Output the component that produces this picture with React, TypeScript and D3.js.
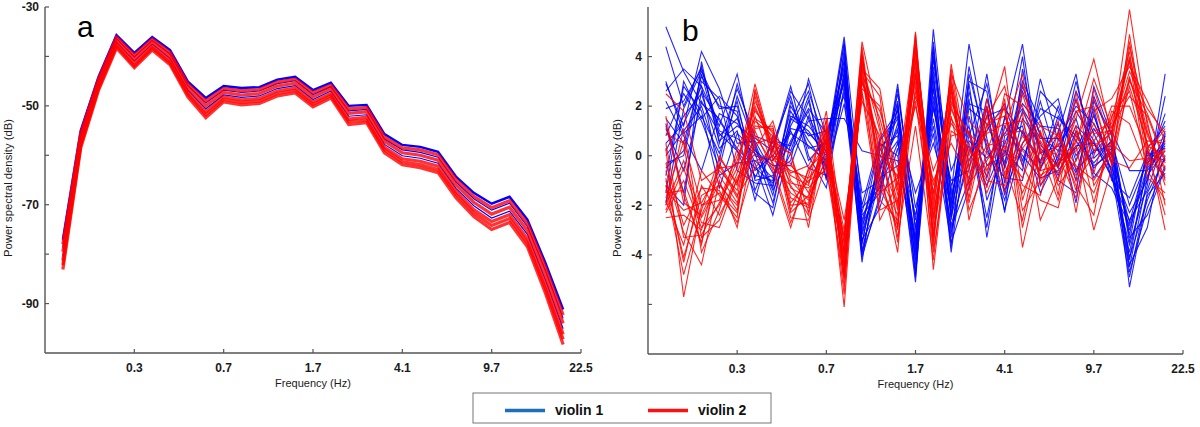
import React from 'react';
import * as d3 from 'd3';

// Frequency axis tick labels (Hz) at every 5th bin
const freqLabels = ['0.3', '0.7', '1.7', '4.1', '9.7', '22.5'];
const freqTickIdx = [5, 10, 15, 20, 25, 30];
const binIdx = d3.range(1, 30);

// Panel a: power spectral density (dB), violin 1 (blue) and violin 2 (red)
const psdBlue: number[][] = [
  [-77.1,-55,-44.1,-35.7,-39.3,-36.1,-38.7,-45.1,-48.4,-46,-46.4,-46.2,-44.7,-44.1,-46.8,-45.3,-50,-49.8,-55.7,-57.9,-58.3,-59.3,-64.3,-67.6,-69.8,-68.4,-73,-81.7,-91.2],
  [-78.6,-55.9,-44.8,-36.4,-40.1,-36.8,-39.5,-45.9,-49.4,-46.8,-47.3,-47.0,-45.5,-44.9,-47.7,-46.1,-51.0,-50.7,-56.7,-58.9,-59.4,-60.4,-65.4,-68.8,-71.1,-69.7,-74.4,-83.2,-93.0],
  [-80.4,-56.9,-45.6,-37.1,-40.9,-37.5,-40.4,-46.8,-50.6,-47.8,-48.3,-48.0,-46.5,-45.9,-48.7,-47.0,-52.1,-51.8,-57.8,-60.1,-60.6,-61.6,-66.7,-70.2,-72.7,-71.3,-76.0,-85.1,-95.1],
];
const psdRed: number[][] = [
  [-78.0,-55.5,-44.5,-36.1,-39.8,-36.5,-39.2,-45.6,-49.0,-46.5,-46.9,-46.7,-45.2,-44.6,-47.3,-45.8,-50.6,-50.3,-56.3,-58.5,-58.9,-59.9,-64.9,-68.3,-70.6,-69.2,-73.8,-82.6,-92.3],
  [-79.5,-56.4,-45.2,-36.7,-40.5,-37.1,-39.9,-46.3,-50.0,-47.3,-47.8,-47.5,-46.0,-45.4,-48.2,-46.5,-51.5,-51.2,-57.2,-59.5,-60.0,-61.0,-66.0,-69.5,-71.9,-70.5,-75.2,-84.1,-94.0],
  [-81.3,-57.5,-46.0,-37.5,-41.4,-37.9,-40.8,-47.3,-51.2,-48.2,-48.8,-48.5,-47.0,-46.4,-49.2,-47.5,-52.7,-52.3,-58.4,-60.7,-61.2,-62.2,-67.3,-71.0,-73.4,-72.0,-76.9,-86.0,-96.2],
  [-82.2,-58.0,-46.4,-37.9,-41.9,-38.3,-41.3,-47.7,-51.8,-48.7,-49.3,-49.0,-47.5,-46.9,-49.7,-47.9,-53.2,-52.9,-58.9,-61.3,-61.9,-62.9,-67.9,-71.7,-74.2,-72.8,-77.7,-86.9,-97.2],
  [-83.1,-58.5,-46.8,-38.3,-42.3,-38.7,-41.7,-48.2,-52.4,-49.2,-49.8,-49.5,-48.0,-47.4,-50.2,-48.4,-53.8,-53.4,-59.5,-61.9,-62.5,-63.5,-68.6,-72.4,-75.0,-73.6,-78.5,-87.8,-98.3],
];

// Panel b: normalized power spectral density (dB)
const devBlue: number[][] = [
  [5.2,3.4,2.1,1.5,0.2,-0.8,-1.0,1.2,2.6,0.4,3.8,-3.1,-0.6,2.2,-3.8,4.2,-2.1,0.8,2.9,-0.5,1.8,0.3,-0.4,1.2,0.5,-0.8,-3.6,-1.2,3.3],
  [4.4,2.0,3.6,0.8,1.5,-0.3,-2.4,0.5,1.8,-0.9,4.3,-3.6,0.2,1.5,-4.2,3.6,-1.5,4.5,0.7,-2.2,0.5,1.6,2.3,-0.6,0.2,0.4,-4.2,-0.3,0.6],
  [2.9,1.2,4.2,2.7,0.5,0.6,-0.7,-0.2,3.1,0.8,3.5,-2.4,-1.5,2.9,-3.0,2.7,-3.9,1.6,-0.9,1.5,4.5,-0.5,0.9,3.3,-0.7,-1.3,-2.8,-0.8,0.2],
  [2.6,3.5,2.8,1.2,3.3,0.0,-0.2,0.9,0.4,-0.2,3.1,-4.3,0.4,0.8,-5.1,4.6,-2.6,2.9,-1.8,0.2,-0.6,3.1,0.6,2.0,1.3,-0.2,-4.7,-2.1,-0.4],
  [1.5,0.5,3.2,2.0,1.8,-1.4,0.3,2.8,0.0,-1.3,2.8,-3.8,-0.9,-0.4,-3.4,1.9,-1.0,-0.6,3.3,-1.1,2.6,0.9,-1.0,-1.5,2.8,0.8,-3.2,0.3,1.2],
  [0.8,2.5,1.4,-0.5,2.4,0.4,-1.6,1.6,1.2,0.3,4.8,-2.0,0.7,1.8,-2.6,3.2,-3.1,0.2,1.0,2.1,-0.2,1.9,1.5,0.8,-0.3,0.6,-5.3,-1.6,-0.7],
  [0.2,1.6,2.5,0.3,1.0,-1.8,0.8,0.2,2.2,-0.5,3.9,-3.4,-2.1,0.3,-4.6,5.1,-1.8,2.3,-3.3,0.8,1.2,-1.5,0.0,2.6,0.9,-0.6,-3.9,-0.5,0.5],
  [-0.3,0.0,3.0,2.3,-0.6,-1.1,-1.2,2.0,0.8,1.0,2.4,-4.0,-0.3,1.1,-3.6,2.4,-2.3,3.6,0.2,-0.9,-1.0,2.6,1.8,-0.2,1.9,-1.0,-1.7,0.1,-0.2],
  [-0.8,2.8,1.8,-1.3,0.9,0.2,-0.4,-0.4,1.6,0.1,3.3,-2.8,-1.2,2.5,-2.1,0.9,-3.5,-1.3,2.0,-2.3,3.5,0.1,0.4,1.5,-0.9,0.2,-4.4,-2.9,0.9],
  [-1.9,1.9,3.4,1.9,2.0,-0.6,0.0,1.0,-0.5,-0.8,2.6,-2.3,0.5,0.0,-4.0,3.9,-0.6,1.2,-2.5,1.2,0.0,-0.9,-0.6,0.4,0.5,-0.5,-2.3,-1.0,2.4],
  [1.1,-0.6,2.2,0.9,0.2,-1.5,-2.1,1.4,2.9,-0.3,4.1,-3.2,-0.7,1.9,-4.8,3.0,-1.2,0.4,-1.2,0.5,2.1,1.2,1.1,-1.9,2.2,0.9,-3.5,0.2,-0.9],
  [-1.2,-2.0,3.8,0.5,2.7,0.8,0.5,2.4,-0.2,0.6,3.6,-4.1,-1.6,2.7,-2.9,1.5,-2.8,-0.2,1.6,1.9,0.9,-0.3,2.0,0.0,1.1,0.0,-4.1,-1.8,0.0],
  [2.2,0.8,-0.6,1.7,1.3,0.3,-1.4,0.1,1.4,1.5,1.5,0.2,0.0,-0.2,-3.3,2.2,-3.3,2.6,-0.4,0.0,4.0,-1.2,-0.2,3.0,0.1,1.0,-0.6,-0.6,0.4],
  [0.5,1.3,2.8,-0.8,-0.3,-0.2,-0.9,1.8,0.6,-0.4,3.2,-1.5,-1.0,1.3,-1.5,0.5,-2.0,3.0,2.6,-1.6,1.5,0.5,-0.8,1.0,-0.5,0.3,-3.0,-0.4,1.7],
  [3.0,0.9,1.6,0.1,2.2,-1.0,-0.8,0.6,1.9,0.9,2.9,-2.6,-0.4,0.6,-3.2,2.8,-2.4,1.9,1.3,-0.4,2.8,0.8,0.2,1.8,0.6,-0.9,-2.6,-1.4,0.8],
  [1.9,2.2,3.5,1.0,0.7,0.1,-1.9,1.1,0.9,0.2,4.5,-3.9,-1.8,2.0,-4.4,4.0,-1.6,1.0,-2.9,1.6,-0.4,2.2,-0.3,0.3,1.6,-0.3,-4.5,-0.9,1.0],
  [-1.5,3.0,1.5,2.4,1.6,-0.9,0.6,0.4,2.4,-1.0,3.4,-3.0,0.6,1.6,-3.9,3.4,-3.7,3.3,0.4,-1.8,1.0,-0.2,1.3,-1.0,2.4,0.5,-3.3,-2.4,-0.5],
  [0.0,1.0,2.0,-0.2,2.9,0.5,-1.3,2.2,0.3,0.5,3.0,-2.1,-1.3,0.5,-2.4,1.2,-2.9,-1.0,2.3,-0.3,3.0,1.4,-0.5,2.3,-0.1,0.6,-2.0,-0.2,1.4],
  [1.3,-1.5,2.6,1.4,0.3,-0.5,-1.1,1.5,1.0,0.0,4.6,-3.5,-0.1,2.1,-4.9,4.4,-2.5,0.6,-0.1,0.9,1.9,0.7,0.7,-0.7,1.7,-0.7,-4.9,-1.5,-0.1],
  [-0.5,0.2,3.3,0.6,1.2,0.7,0.2,2.6,1.5,-0.6,2.1,-2.7,-0.5,1.0,-3.5,2.0,-1.9,2.1,1.8,-1.4,0.3,-0.6,1.6,0.6,-0.4,0.1,-2.7,0.0,0.3],
];
const devRed: number[][] = [
  [2.5,1.8,-1.0,-0.5,-0.4,2.9,0.2,-0.8,-1.2,1.8,-3.6,4.6,1.2,-2.2,5.0,-3.5,3.7,-0.4,1.0,3.6,-1.8,0.6,-0.5,1.5,3.9,0.8,5.9,1.2,-1.0],
  [0.3,-5.7,-2.0,-1.8,0.0,1.5,1.0,-2.2,-0.6,0.5,-6.1,3.5,2.7,-1.4,3.8,-2.8,2.2,0.8,-0.6,1.1,3.3,-1.2,0.2,-0.8,0.6,1.5,4.2,-0.3,0.2],
  [-0.6,-3.1,-4.4,-1.0,-2.9,0.8,-0.3,-1.5,-2.0,0.9,-4.9,4.0,-0.5,-3.9,4.4,-4.6,1.6,-1.7,2.3,-0.8,0.5,1.4,-1.6,2.6,-1.2,0.0,2.8,0.5,-3.0],
  [-1.5,-1.4,-3.6,0.0,-1.2,2.2,0.6,0.1,-2.9,1.2,-3.9,2.5,-2.2,-1.8,2.6,-1.5,2.9,-2.6,0.2,2.0,-3.7,-0.4,1.4,-2.3,1.8,2.3,3.6,2.2,0.6],
  [-2.2,-0.5,-2.7,-2.9,-0.9,0.3,1.4,-1.0,-1.8,-0.1,-4.5,3.2,0.3,-0.9,3.0,-3.9,1.0,0.5,-1.5,0.3,1.7,-2.6,-0.9,0.4,-3.0,-0.5,3.1,0.9,-0.5],
  [-1.0,-4.1,-1.6,-1.2,-2.0,1.0,-0.6,-2.9,-0.5,0.2,-3.5,4.4,-1.0,-3.0,4.7,-2.2,3.3,1.4,0.6,-1.5,2.5,0.1,0.9,-1.4,2.7,0.4,4.6,0.1,1.1],
  [-2.5,-2.4,-3.0,-0.3,-1.6,-0.5,0.4,0.1,-2.3,1.5,-5.3,2.9,1.8,-0.6,2.0,-1.0,0.5,-0.9,1.6,2.8,-0.4,-1.8,-2.1,0.9,-0.7,1.8,1.3,-0.6,-1.8],
  [0.9,0.5,-3.9,-2.2,0.3,1.8,0.9,-1.9,-1.0,-0.6,-4.1,3.8,-1.8,-2.6,3.4,-3.2,2.6,-1.1,-0.2,0.9,1.0,-0.9,0.6,2.2,0.2,1.2,2.4,1.6,-0.3],
  [-1.8,-3.6,-0.6,-1.6,-2.5,2.6,-0.1,-0.3,-1.5,0.6,-2.6,2.2,0.8,-3.3,1.2,-4.2,1.9,0.0,2.0,-0.3,-2.6,0.9,-1.2,-0.2,1.3,-0.2,-0.5,0.6,0.5],
  [1.6,-1.9,-2.4,-0.8,-1.9,0.5,0.7,-2.5,-2.6,-0.3,-3.8,3.6,-2.6,-1.1,4.1,-1.8,3.2,-1.9,1.3,1.6,0.2,-0.6,-0.4,1.2,-1.9,0.7,3.9,-0.9,-1.5],
  [-2.0,1.1,-3.3,-2.6,-0.7,1.2,1.1,-1.3,-1.7,1.1,-4.7,2.7,2.0,-1.6,2.4,-0.6,1.3,0.3,-1.0,-1.2,2.9,0.4,0.0,-1.7,0.9,1.0,3.4,1.9,0.9],
  [-0.3,-2.8,-1.3,-1.4,-2.7,-0.2,0.0,-0.6,-0.9,0.0,-3.3,4.2,-1.3,-2.8,3.6,-2.6,2.4,-0.7,0.4,0.6,-1.2,-1.6,1.0,-1.0,0.0,2.0,2.0,0.2,-2.4],
  [-1.2,-4.8,-2.2,-0.1,-1.1,1.6,-0.4,-2.7,-0.8,1.4,-4.3,3.1,-0.2,-2.0,2.2,-3.0,0.8,1.0,-1.3,2.3,-2.9,0.3,-0.7,0.6,2.3,-0.4,4.9,0.4,0.0],
  [-2.3,-1.0,-2.9,-2.0,-0.2,2.0,0.3,-1.1,-1.3,-0.5,-5.0,3.9,0.0,-0.8,4.5,-2.0,2.8,-1.4,1.6,-0.7,0.8,-0.2,0.4,-0.5,-1.5,0.5,-0.2,-0.1,-0.8],
  [-1.4,-2.2,-1.9,-0.6,-1.4,1.4,0.8,-1.7,-2.1,0.7,-4.4,3.3,1.5,-1.2,3.2,-2.4,2.0,-0.2,0.9,1.3,1.4,-0.8,-0.3,0.2,1.0,1.3,3.8,0.8,-0.6],
  [0.5,-3.3,-3.2,-1.9,-0.5,2.4,-0.2,-0.4,-1.1,0.4,-5.6,4.1,-0.8,-2.4,4.9,-3.7,3.5,-1.2,1.9,0.1,-0.9,1.0,-1.0,1.8,2.0,-0.1,4.4,1.4,-2.0],
  [-2.0,-0.2,-2.5,-1.1,-2.2,1.1,1.2,-2.3,-1.6,-0.2,-3.2,3.0,0.6,-3.5,2.8,-1.2,1.5,0.2,-0.8,2.5,2.0,-0.5,0.5,-1.2,-2.4,1.6,2.6,-0.4,0.3],
  [-0.9,-4.3,-1.2,-2.4,-1.0,0.1,-0.5,-1.2,-2.4,0.8,-4.8,3.7,1.0,-1.9,3.9,-3.3,2.7,-2.2,-0.4,0.4,-1.5,0.2,-1.8,1.0,0.4,0.9,4.0,1.0,-1.2],
  [1.2,-1.6,-3.5,-0.4,-1.7,1.9,0.5,-0.7,-0.4,1.0,-4.0,2.6,-1.5,-0.9,3.3,-2.5,2.1,0.9,0.1,-0.9,0.3,1.2,0.8,-0.4,-1.0,0.2,3.2,0.4,0.7],
  [-1.7,0.6,-2.0,-1.5,-2.3,2.7,0.1,-2.0,-1.9,0.3,-3.0,3.4,2.4,-2.9,4.3,-1.6,3.0,-0.5,1.2,1.9,-2.2,-1.0,-0.2,0.5,3.1,1.1,3.0,1.7,-0.2],
];

const yTicksA = [-90, -80, -70, -60, -50, -40, -30];
const yLabelsA = [-90, -70, -50, -30];
const yTicksB = [-6, -4, -2, 0, 2, 4];
const yLabelsB = [-4, -2, 0, 2, 4];

const FONT = '"Liberation Sans", Arial, Helvetica, sans-serif';
const AXIS = '#555';
const TXT = '#1a1a1a';

type PanelProps = {
  left: number; right: number; top: number; bottom: number;
  yDomain: [number, number];
  yTicks: number[]; yLabels: number[];
  blue: number[][]; red: number[][];
  letter: string; letterX: number; letterY: number;
  titleX: number;
  blueW: number[]; redW: number; redOpacity: number; blueOpacity: number;
};

function Panel(p: PanelProps) {
  const x = d3.scaleLinear().domain([0, 30]).range([p.left, p.right]);
  const y = d3.scaleLinear().domain(p.yDomain).range([p.bottom, p.top]);
  const line = d3.line<number>().x((_, i) => x(binIdx[i])).y((v) => y(v));
  return (
    <g>
      {p.blue.map((s, k) => (
        <path key={'b' + k} d={line(s) || ''} fill="none" stroke="#0000ff"
          strokeWidth={p.blueW[Math.min(k, p.blueW.length - 1)]}
          strokeOpacity={p.blueOpacity} strokeLinejoin="miter" />
      ))}
      {p.red.map((s, k) => (
        <path key={'r' + k} d={line(s) || ''} fill="none" stroke="#ff0000" strokeWidth={p.redW}
          strokeOpacity={p.redOpacity} strokeLinejoin="miter" />
      ))}
      {/* axes */}
      <line x1={p.left} x2={p.left} y1={p.top} y2={p.bottom} stroke={AXIS} strokeWidth={1.4} />
      <line x1={p.left} x2={p.right} y1={p.bottom} y2={p.bottom} stroke={AXIS} strokeWidth={1.4} />
      {p.yTicks.map((t) => (
        <line key={'yt' + t} x1={p.left} x2={p.left + 4} y1={y(t)} y2={y(t)} stroke={AXIS} strokeWidth={1.2} />
      ))}
      {p.yLabels.map((t) => (
        <text key={'yl' + t} x={p.left - 6} y={y(t)} dy="0.36em" textAnchor="end"
          fontFamily={FONT} fontSize={12} fontWeight="bold" fill={TXT}>{t}</text>
      ))}
      {freqTickIdx.map((t, i) => (
        <g key={'xt' + t}>
          <line x1={x(t)} x2={x(t)} y1={p.bottom} y2={p.bottom - 4} stroke={AXIS} strokeWidth={1.2} />
          <text x={x(t)} y={p.bottom + 19} textAnchor="middle" fontFamily={FONT} fontSize={12}
            fontWeight="bold" fill={TXT}>{freqLabels[i]}</text>
        </g>
      ))}
      <text x={(p.left + p.right) / 2} y={p.bottom + 34} textAnchor="middle" fontFamily={FONT}
        fontSize={11} fill={TXT}>Frequency (Hz)</text>
      <text transform={`translate(${p.titleX},188) rotate(-90)`} textAnchor="middle" fontFamily={FONT}
        fontSize={11.3} fill={TXT}>Power spectral density (dB)</text>
      <text x={p.letterX} y={p.letterY} fontFamily={FONT} fontSize={30} fill="#000">{p.letter}</text>
    </g>
  );
}

export default function App() {
  return (
    <svg width={1200} height={427} viewBox="0 0 1200 427"
      style={{ position: 'absolute', left: 0, top: 0, background: '#fff' }}>
      <rect x={0} y={0} width={1200} height={427} fill="#fff" />
      <Panel left={45} right={581} top={7} bottom={353} yDomain={[-100, -30]}
        yTicks={yTicksA} yLabels={yLabelsA} blue={psdBlue} red={psdRed}
        letter="a" letterX={77} letterY={37} titleX={12}
        blueW={[2.4, 1.2, 1.2]} redW={3.2} redOpacity={0.8} blueOpacity={1} />
      <Panel left={648} right={1183} top={7} bottom={354} yDomain={[-8, 6]}
        yTicks={yTicksB} yLabels={yLabelsB} blue={devBlue} red={devRed}
        letter="b" letterX={682} letterY={41} titleX={621}
        blueW={[1.1]} redW={1.1} redOpacity={0.85} blueOpacity={0.85} />
      {/* legend */}
      <rect x={473} y={393} width={298} height={30} fill="#fff" stroke="#777" strokeWidth={1} />
      <line x1={505} x2={545} y1={410.5} y2={410.5} stroke="#1e6ebe" strokeWidth={3.5} />
      <text x={555} y={415} fontFamily={FONT} fontSize={14} fontWeight="bold" fill="#111">violin 1</text>
      <line x1={648} x2={688} y1={410.5} y2={410.5} stroke="#ff1010" strokeWidth={3.5} />
      <text x={698} y={415} fontFamily={FONT} fontSize={14} fontWeight="bold" fill="#111">violin 2</text>
    </svg>
  );
}
